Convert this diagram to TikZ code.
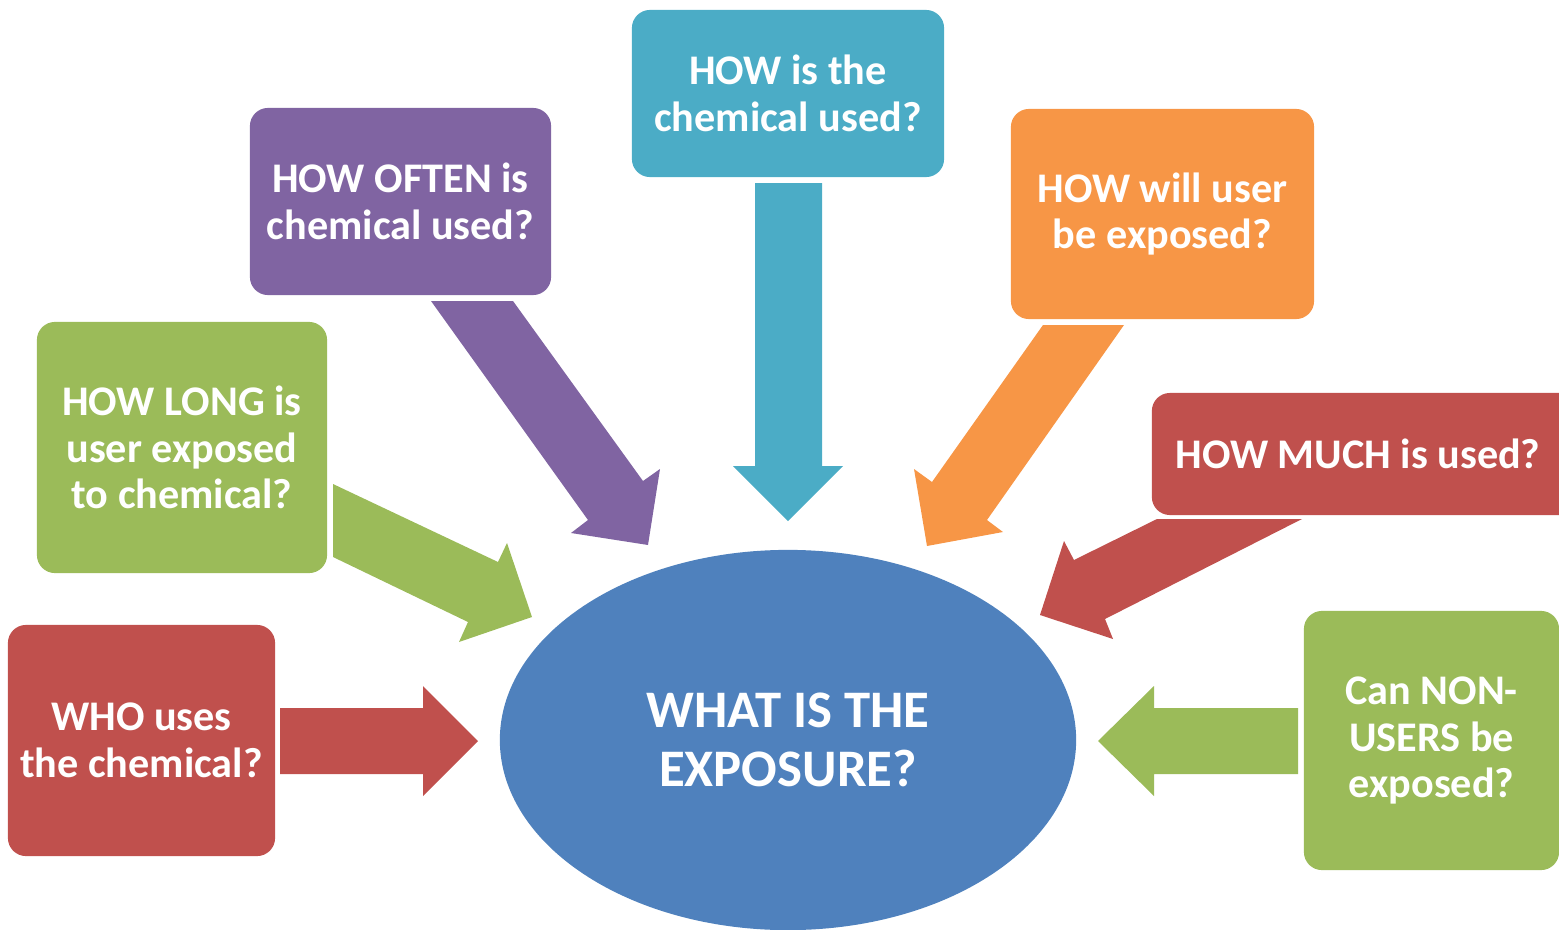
\documentclass[tikz,border=0pt]{standalone}
\usepackage{fontspec}
\setmainfont{Carlito}
\usetikzlibrary{shapes.geometric}
\definecolor{qteal}{HTML}{4BACC6}
\definecolor{qpurple}{HTML}{8064A2}
\definecolor{qorange}{HTML}{F79646}
\definecolor{qgreen}{HTML}{9BBB59}
\definecolor{qred}{HTML}{C0504D}
\definecolor{qblue}{HTML}{4F81BD}
\begin{document}
\begin{tikzpicture}[x=0.01cm, y=-0.01cm,
  qbox/.style={rounded corners=0.18cm, text=white, align=center, inner sep=0pt,
    font=\bfseries\fontsize{12}{13.3}\selectfont}]
\useasboundingbox (0,0) rectangle (1559,930);
% Centre
\node[ellipse, fill=qblue, text=white, align=center, inner sep=0pt,
  minimum width=5.76cm, minimum height=3.8cm,
  font=\bfseries\fontsize{15}{16.6}\selectfont] (exposure) at (788,740) {WHAT IS THE\\EXPOSURE?};
% Questions
\node[qbox, fill=qteal, minimum width=3.12cm, minimum height=1.67cm] (how) at (788,93.5) {HOW is the\\chemical used?};
\node[qbox, fill=qpurple, minimum width=3.01cm, minimum height=1.87cm] (often) at (400.5,201.5) {HOW OFTEN is\\chemical used?};
\node[qbox, fill=qorange, minimum width=3.03cm, minimum height=2.10cm] (will) at (1162.5,214) {HOW will user\\be exposed?};
\node[qbox, fill=qgreen, minimum width=2.90cm, minimum height=2.51cm] (long) at (182,447.5) {HOW LONG is\\user exposed\\to chemical?};
\node[qbox, fill=qred, minimum width=4.56cm, minimum height=1.22cm] (much) at (1380,454) {HOW MUCH is used?\hspace*{0.44cm}};
\node[qbox, fill=qred, minimum width=2.67cm, minimum height=2.31cm] (who) at (141.5,740.5) {WHO uses\\the chemical?};
\node[qbox, fill=qgreen, minimum width=2.55cm, minimum height=2.59cm] (nonusers) at (1431.5,740.5) {Can NON-\\USERS be\\exposed?};
% Arrows
\fill[qteal] (755,183) -- (822,183) -- (822,466) -- (843,466) -- (788,521) -- (733,466) -- (755,466) -- cycle;
\fill[qpurple] (431,301) -- (513,301) -- (643,481) -- (660,469) -- (648,545) -- (571,533) -- (588,520) -- cycle;
\fill[qorange] (1043,325) -- (1124,325) -- (987,520) -- (1003,532) -- (927,546) -- (914,469) -- (932,482) -- cycle;
\fill[qgreen] (333,484) -- (498,562) -- (507,543) -- (532,617) -- (459,642) -- (468,622) -- (333,557) -- cycle;
\fill[qred] (1157,519) -- (1302,519) -- (1105,619) -- (1113,639) -- (1040,615) -- (1064,541) -- (1074,560) -- cycle;
\fill[qred] (280,708) -- (423,708) -- (423,686) -- (478,741) -- (423,796) -- (423,774) -- (280,774) -- cycle;
\fill[qgreen] (1298,708) -- (1154,708) -- (1154,686) -- (1098,741) -- (1154,796) -- (1154,774) -- (1298,774) -- cycle;
\end{tikzpicture}
\end{document}
